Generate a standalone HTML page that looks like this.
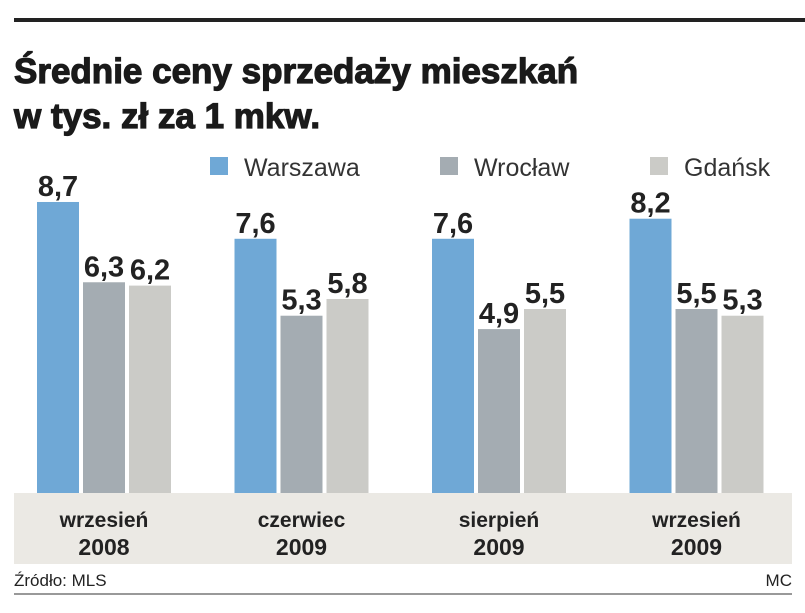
<!DOCTYPE html>
<html><head><meta charset="utf-8"><style>
body{margin:0;background:#fff;width:805px;height:613px;overflow:hidden;font-family:"Liberation Sans",sans-serif}
svg{display:block}
</style></head><body>
<svg width="805" height="613">
<rect x="14" y="18" width="791" height="4" fill="#222"/>
<text x="14" y="83" font-size="35" font-weight="bold" fill="#1a1a1a" stroke="#1a1a1a" stroke-width="1.2">Średnie ceny sprzedaży mieszkań</text>
<text x="14" y="128" font-size="35" font-weight="bold" fill="#1a1a1a" stroke="#1a1a1a" stroke-width="1.2">w tys. zł za 1 mkw.</text>
<rect x="14" y="493" width="778" height="71" fill="#ebe9e4"/>
<g id="bars"></g>
<g id="legend"></g>
<text x="14" y="586" font-size="17" fill="#222">Źródło: MLS</text>
<text x="792" y="586" font-size="17" fill="#222" text-anchor="end">MC</text>
<rect x="14" y="593" width="778" height="2" fill="#999"/>
</svg>
<script>
const categoriesTop=["wrzesień","czerwiec","sierpień","wrzesień"];
const categoriesYear=["2008","2009","2009","2009"];
const seriesNames=["Warszawa","Wrocław","Gdańsk"];
const warszawa=[8.7,7.6,7.6,8.2];
const wroclaw=[6.3,5.3,4.9,5.5];
const gdansk=[6.2,5.8,5.5,5.3];
const labels=[["8,7","7,6","7,6","8,2"],["6,3","5,3","4,9","5,5"],["6,2","5,8","5,5","5,3"]];
const series=[warszawa,wroclaw,gdansk];
const colors=["#6fa8d6","#a4acb2","#cbcbc7"];
const NS="http://www.w3.org/2000/svg";
const base=493, unit=33.45;
const y=v=>base-v*unit;
const x=(g,s)=>37+g*197.5+s*46;
const bw=42;
const gb=document.getElementById('bars');
function mk(t,a){const e=document.createElementNS(NS,t);for(const k in a)e.setAttribute(k,a[k]);return e;}
for(let g=0;g<categoriesTop.length;g++){
  for(let s=0;s<series.length;s++){
    const v=series[s][g];
    const r=mk('rect',{x:x(g,s),y:y(v),width:bw,height:base-y(v),fill:colors[s]});
    
    
    gb.appendChild(r);
    const t=mk('text',{x:x(g,s)+bw/2,y:y(v)-6,'font-size':29,'font-weight':'bold','text-anchor':'middle',fill:'#222'});
    t.textContent=labels[s][g];
    
    
    gb.appendChild(t);
  }
  const cx=x(g,1)+bw/2;
  const t1=mk('text',{x:cx,y:527,'font-size':21,'font-weight':'bold','text-anchor':'middle',fill:'#222'});
  t1.textContent=categoriesTop[g];
  
  
  gb.appendChild(t1);
  const t2=mk('text',{x:cx,y:555,'font-size':23,'font-weight':'bold','text-anchor':'middle',fill:'#222'});
  t2.textContent=categoriesYear[g];
  
  
  gb.appendChild(t2);
}
const lg=document.getElementById('legend');
const lx=[210,440,650];
for(let s=0;s<3;s++){
  const r=mk('rect',{x:lx[s],y:157,width:18,height:18,fill:colors[s]});
  
  
  lg.appendChild(r);
  const t=mk('text',{x:lx[s]+34,y:176,'font-size':25,fill:'#333'});
  t.textContent=seriesNames[s];
  
  
  lg.appendChild(t);
}
</script>
</body></html>
